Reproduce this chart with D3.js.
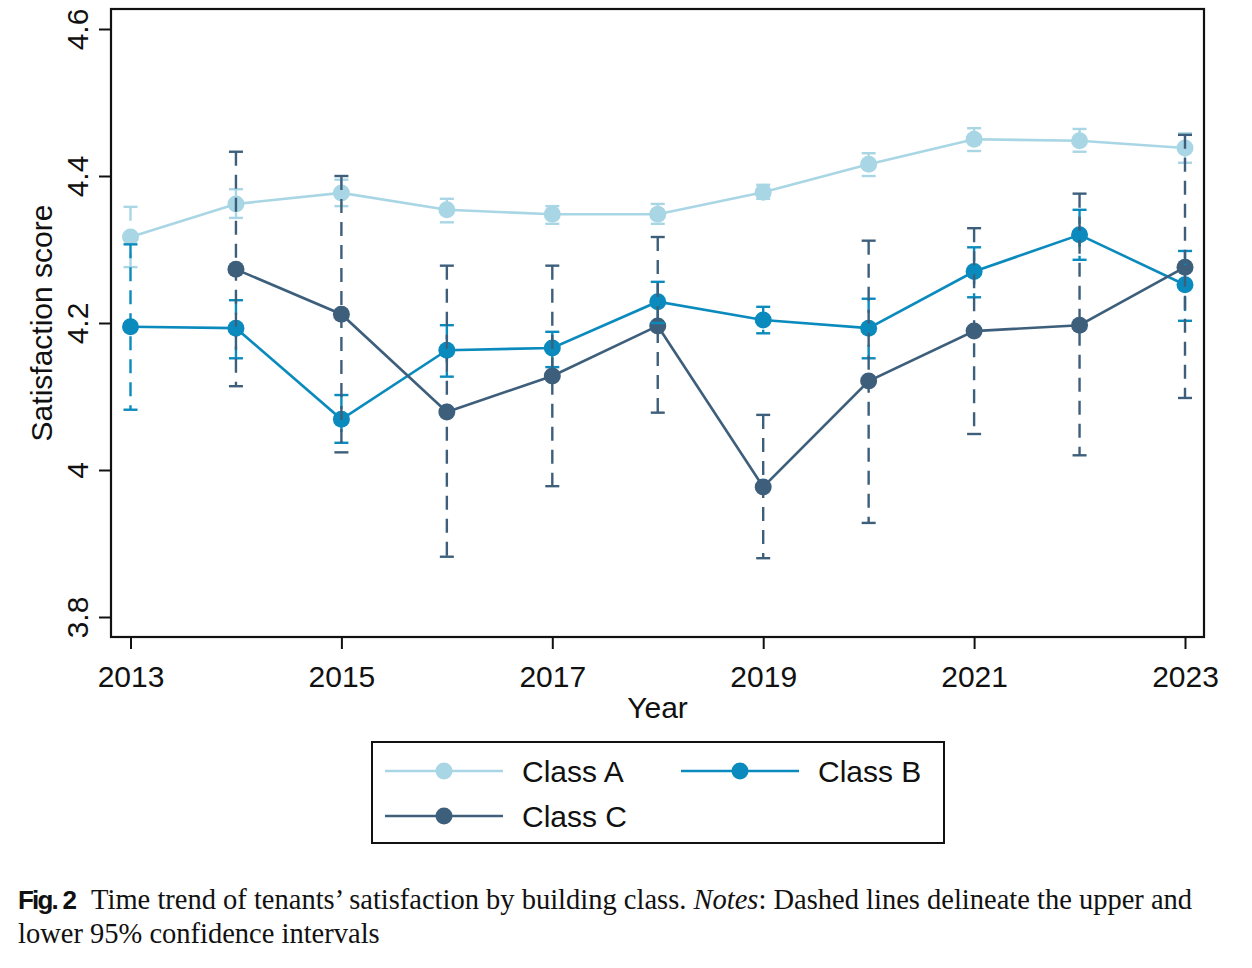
<!DOCTYPE html>
<html>
<head>
<meta charset="utf-8">
<script src="https://cdn.jsdelivr.net/npm/d3@7"></script>
<style>
body { margin: 0; background: #fff; }
svg text { font-family: "Liberation Sans", Arial, sans-serif; fill: #111; }
</style>
</head>
<body>
<svg id="chart" width="1252" height="968"></svg>
<script>
var years = [2013, 2014, 2015, 2016, 2017, 2018, 2019, 2020, 2021, 2022, 2023]
var yTicks = [3.8, 4, 4.2, 4.4, 4.6]
var xTicks = [2013, 2015, 2017, 2019, 2021, 2023]

var classA    = [4.317, 4.362, 4.377, 4.354, 4.348, 4.348, 4.378, 4.416, 4.450, 4.448, 4.438]
var classA_lo = [4.276, 4.343, 4.359, 4.337, 4.335, 4.335, 4.369, 4.400, 4.434, 4.433, 4.418]
var classA_hi = [4.358, 4.382, 4.395, 4.369, 4.359, 4.362, 4.388, 4.431, 4.465, 4.464, 4.458]

var classB    = [4.195, 4.193, 4.069, 4.163, 4.166, 4.229, 4.204, 4.193, 4.270, 4.320, 4.252]
var classB_lo = [4.082, 4.152, 4.037, 4.127, 4.140, 4.200, 4.186, 4.152, 4.235, 4.286, 4.203]
var classB_hi = [4.307, 4.231, 4.102, 4.197, 4.188, 4.256, 4.222, 4.233, 4.303, 4.354, 4.298]

var classC    = [null, 4.273, 4.212, 4.079, 4.128, 4.196, 3.977, 4.121, 4.189, 4.197, 4.276]
var classC_lo = [null, 4.114, 4.024, 3.882, 3.978, 4.078, 3.880, 3.928, 4.049, 4.020, 4.098]
var classC_hi = [null, 4.433, 4.400, 4.278, 4.278, 4.317, 4.075, 4.312, 4.329, 4.376, 4.456]

var seriesNames = ['Class A', 'Class B', 'Class C']
var colors = ['#a9d6e5', '#0b8bbd', '#3e5f7b']

var series = [
	{name: seriesNames[0], color: colors[0], v: classA, lo: classA_lo, hi: classA_hi},
	{name: seriesNames[1], color: colors[1], v: classB, lo: classB_lo, hi: classB_hi},
	{name: seriesNames[2], color: colors[2], v: classC, lo: classC_lo, hi: classC_hi}
]

var svg = d3.select('#chart')
var frame = {left: 111, right: 1204, top: 9, bottom: 637}

var x = d3.scaleLinear().domain([2013, 2023]).range([130.5, 1185])
var y = d3.scaleLinear().domain([3.8, 4.6]).range([617, 29])

// plot frame
svg.append('rect')
	.attr('x', frame.left)
	.attr('y', frame.top)
	.attr('width', frame.right - frame.left)
	.attr('height', frame.bottom - frame.top)
	.attr('fill', 'none')
	.attr('stroke', '#111')
	.attr('stroke-width', 2.2)

// y axis
var yAxis = svg.append('g')
	.attr('transform', 'translate(' + frame.left + ',0)')
	.call(d3.axisLeft(y).tickValues(yTicks).tickSize(12).tickFormat(d3.format('')))
yAxis.select('.domain').remove()
yAxis.selectAll('line').attr('stroke', '#111').attr('stroke-width', 2)
yAxis.selectAll('text')
	.attr('x', null).attr('dy', null).attr('y', 0)
	.attr('text-anchor', 'middle')
	.attr('transform', 'translate(-23,0) rotate(-90)')
	.style('font-size', '30px')
	.style('font-family', '"Liberation Sans", Arial, sans-serif')
	.attr('fill', '#111')

// x axis
var xAxis = svg.append('g')
	.attr('transform', 'translate(0,' + frame.bottom + ')')
	.call(d3.axisBottom(x).tickValues(xTicks).tickSize(12).tickFormat(d3.format('d')))
xAxis.select('.domain').remove()
xAxis.selectAll('line').attr('stroke', '#111').attr('stroke-width', 2)
xAxis.selectAll('text')
	.attr('y', 50).attr('dy', null)
	.style('font-size', '30px')
	.style('font-family', '"Liberation Sans", Arial, sans-serif')
	.attr('fill', '#111')

svg.append('text')
	.attr('x', (frame.left + frame.right) / 2)
	.attr('y', 718)
	.attr('text-anchor', 'middle')
	.style('font-size', '30px')
	.text('Year')

svg.append('text')
	.attr('transform', 'translate(52,' + (frame.top + frame.bottom) / 2 + ') rotate(-90)')
	.attr('text-anchor', 'middle')
	.style('font-size', '30px')
	.text('Satisfaction score')

// connected lines and dots
var line = d3.line()
	.defined(function(d){ return d[1] != null })
	.x(function(d){ return x(d[0]) })
	.y(function(d){ return y(d[1]) })

series.forEach(function(s){
	var pts = years.map(function(yr, i){ return [yr, s.v[i]] })
	svg.append('path')
		.datum(pts)
		.attr('d', line)
		.attr('fill', 'none')
		.attr('stroke', s.color)
		.attr('stroke-width', 2.6)
	svg.append('g').selectAll('circle')
		.data(pts.filter(function(d){ return d[1] != null }))
		.enter().append('circle')
		.attr('cx', function(d){ return x(d[0]) })
		.attr('cy', function(d){ return y(d[1]) })
		.attr('r', 8.5)
		.attr('fill', s.color)
})

// confidence intervals, dashed with caps
series.forEach(function(s){
	var ci = years.map(function(yr, i){ return {yr: yr, lo: s.lo[i], hi: s.hi[i]} })
		.filter(function(d){ return d.lo != null })
	var g = svg.append('g')
		.attr('stroke', s.color)
		.attr('stroke-width', 2.4)
	g.selectAll('.ci')
		.data(ci)
		.enter().append('line')
		.attr('x1', function(d){ return x(d.yr) })
		.attr('x2', function(d){ return x(d.yr) })
		.attr('y1', function(d){ return y(d.hi) })
		.attr('y2', function(d){ return y(d.lo) })
		.attr('stroke-dasharray', '14,9')
	g.selectAll('.caphi')
		.data(ci)
		.enter().append('line')
		.attr('x1', function(d){ return x(d.yr) - 7 })
		.attr('x2', function(d){ return x(d.yr) + 7 })
		.attr('y1', function(d){ return y(d.hi) })
		.attr('y2', function(d){ return y(d.hi) })
	g.selectAll('.caplo')
		.data(ci)
		.enter().append('line')
		.attr('x1', function(d){ return x(d.yr) - 7 })
		.attr('x2', function(d){ return x(d.yr) + 7 })
		.attr('y1', function(d){ return y(d.lo) })
		.attr('y2', function(d){ return y(d.lo) })
})

// legend
var legend = svg.append('g')
legend.append('rect')
	.attr('x', 372).attr('y', 742)
	.attr('width', 572).attr('height', 101)
	.attr('fill', 'none')
	.attr('stroke', '#111')
	.attr('stroke-width', 2)
var legPos = [[385, 771], [681, 771], [385, 816]]
series.forEach(function(s, i){
	var p = legPos[i]
	legend.append('line')
		.attr('x1', p[0]).attr('x2', p[0] + 118)
		.attr('y1', p[1]).attr('y2', p[1])
		.attr('stroke', s.color)
		.attr('stroke-width', 2.6)
	legend.append('circle')
		.attr('cx', p[0] + 59).attr('cy', p[1])
		.attr('r', 8.5)
		.attr('fill', s.color)
	legend.append('text')
		.attr('x', p[0] + 137).attr('y', p[1] + 11)
		.style('font-size', '30px')
		.text(s.name)
})

// caption
var cap = svg.append('text')
	.attr('x', 18).attr('y', 909)
	.style('font-family', '"Liberation Serif", "Times New Roman", serif')
	.style('font-size', '28.5px')
cap.append('tspan')
	.style('font-family', '"Liberation Sans", sans-serif')
	.style('font-weight', 'bold')
	.style('font-size', '26px')
	.style('letter-spacing', '-1.8px')
	.text('Fig. 2')
cap.append('tspan').attr('dx', 16).text('Time trend of tenants\u2019 satisfaction by building class. ')
cap.append('tspan').style('font-style', 'italic').text('Notes')
cap.append('tspan').text(': Dashed lines delineate the upper and')
svg.append('text')
	.attr('x', 18).attr('y', 943)
	.style('font-family', '"Liberation Serif", "Times New Roman", serif')
	.style('font-size', '28.5px')
	.text('lower 95% confidence intervals')
</script>
</body>
</html>
